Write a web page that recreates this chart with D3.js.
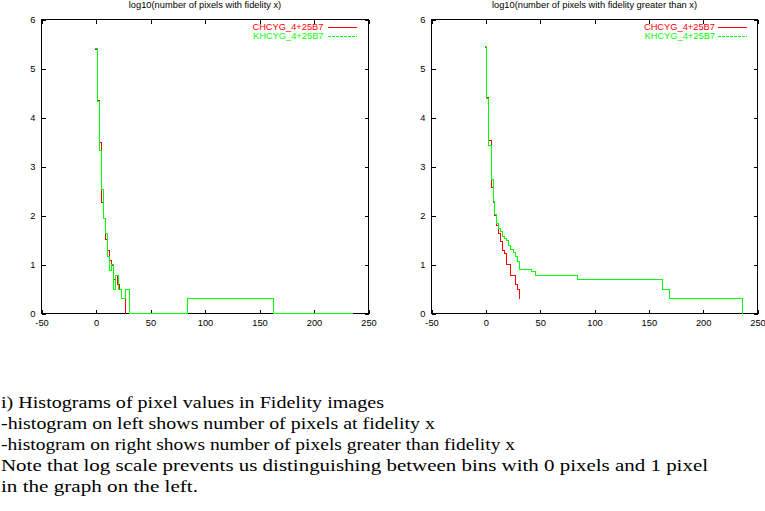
<!DOCTYPE html>
<html><head><meta charset="utf-8">
<script src="https://cdn.jsdelivr.net/npm/d3@7"></script>
<style>body{margin:0;background:#fff;} svg{display:block;}</style>
</head><body>
<script>
// ---- data ----
const xTicks = [-50, 0, 50, 100, 150, 200, 250];
const yTicks = [0, 1, 2, 3, 4, 5, 6];
const seriesNames = ["CHCYG_4+25B7", "KHCYG_4+25B7"];
const titles = ["log10(number of pixels with fidelity x)",
                "log10(number of pixels with fidelity greater than x)"];

// left: log10(number of pixels with fidelity x)  [x, log10 count]
const leftRed = [[-1.6,5.39],[1.5,4.34],[3.3,3.50],[5.1,2.26],[7.0,1.94],[8.8,1.51],
  [10.6,1.29],[12.5,1.09],[14.3,0.98],[16.1,0.70],[18.0,0.78],[19.8,0.60],
  [21.7,0.48],[23.5,0.30],[27.2,0]];
const leftGreen = [[-1.6,5.41],[1.5,4.33],[3.3,3.33],[5.1,2.53],[7.0,1.94],[8.8,1.63],
  [10.6,1.17],[12.5,0.88],[14.3,1.0],[16.1,0.48],[18.0,0.78],[21.1,0.48],
  [23.2,0.30],[27.2,0.48],[30.8,0],[84.0,0.30],[162.4,0],[235.0,0]];

// right: log10(number of pixels with fidelity greater than x)
const rightRed = [[-0.9,5.43],[0.9,4.40],[2.8,3.54],[5.0,2.57],[6.6,2.27],[8.3,1.99],
  [10.1,1.80],[12.0,1.63],[13.8,1.46],[15.7,1.28],[17.5,1.22],[19.4,1.0],
  [23.0,0.78],[27.6,0.60],[29.5,0.48],[31.3,0.30]];
const rightGreen = [[-0.9,5.45],[0.9,4.39],[2.8,3.43],[5.0,2.73],[6.6,2.29],[8.3,2.03],
  [10.1,1.84],[12.0,1.73],[13.8,1.68],[15.7,1.58],[17.5,1.54],[19.4,1.48],
  [21.2,1.38],[23.0,1.31],[25.8,1.24],[27.6,1.16],[29.5,1.07],[31.3,0.90],
  [42.4,0.85],[46.1,0.78],[84.8,0.70],[162.5,0.48],[168.7,0.30],[236.3,0]];

const notes = [
  "i) Histograms of pixel values in Fidelity images",
  "-histogram on left shows number of pixels at fidelity x",
  "-histogram on right shows number of pixels greater than fidelity x",
  "Note that log scale prevents us distinguishing between bins with 0 pixels and 1 pixel",
  "in the graph on the left."
];
const noteWidths = [383, 434, 514, 707, 197];

// ---- drawing ----
const W = 765, H = 511;
const svg = d3.select("body").append("svg").attr("width", W).attr("height", H)
  .style("font-family", "'Liberation Sans', Arial, sans-serif");

const panels = [
  {x0: 41.5, x1: 368.5, red: leftRed, green: leftGreen, title: titles[0], legEnd: 323.5, lineA: 328, lineB: 357},
  {x0: 431.5, x1: 757.5, red: rightRed, green: rightGreen, title: titles[1], legEnd: 715, lineA: 718, lineB: 747}
];
const yTop = 19.5, yBot = 313.5;
const fs = 9.3;
const fmt = d => String(d);

panels.forEach(p => {
  const x = d3.scaleLinear().domain([-50, 250]).range([p.x0, p.x1]);
  const y = d3.scaleLinear().domain([0, 6]).range([yBot, yTop]);
  const g = svg.append("g");

  const styleAxis = sel => {
    sel.select(".domain").remove();
    sel.selectAll("line").attr("stroke", "#000").attr("shape-rendering", "crispEdges");
    sel.selectAll("text").attr("font-size", fs).attr("font-family", "'Liberation Sans', Arial, sans-serif").attr("fill", "#000");
  };
  g.append("g").attr("transform", `translate(0,${yBot})`)
    .call(d3.axisBottom(x).tickValues(xTicks).tickFormat(fmt).tickSize(-4).tickPadding(6)).call(styleAxis);
  g.append("g").attr("transform", `translate(0,${yTop})`)
    .call(d3.axisTop(x).tickValues(xTicks).tickSize(-4).tickFormat("")).call(styleAxis);
  g.append("g").attr("transform", `translate(${p.x0},0)`)
    .call(d3.axisLeft(y).tickValues(yTicks).tickFormat(fmt).tickSize(-4).tickPadding(6)).call(styleAxis);
  g.append("g").attr("transform", `translate(${p.x1},0)`)
    .call(d3.axisRight(y).tickValues(yTicks).tickSize(-4).tickFormat("")).call(styleAxis);

  g.append("rect").attr("x", p.x0).attr("y", yTop)
    .attr("width", p.x1 - p.x0).attr("height", yBot - yTop)
    .attr("fill", "none").attr("stroke", "#000").attr("stroke-width", 1)
    .attr("shape-rendering", "crispEdges");

  g.append("text").attr("x", (p.x0 + p.x1) / 2).attr("y", 7.5)
    .attr("text-anchor", "middle").attr("font-size", fs).text(p.title);

  const line = d3.line()
    .x(d => Math.round(x(d[0]) - 0.5) + 0.5)
    .y(d => Math.round(y(d[1]) - 0.5) + 0.5)
    .curve(d3.curveStepAfter);
  g.append("path").datum(p.red).attr("d", line).attr("fill", "none")
    .attr("stroke", "#ff0000").attr("stroke-width", 1).attr("shape-rendering", "crispEdges");
  g.append("path").datum(p.green).attr("d", line).attr("fill", "none")
    .attr("stroke", "#00ff00").attr("stroke-width", 1).attr("shape-rendering", "crispEdges");

  // legend
  const legY = [26.5, 35.5];
  const cols = ["#ff0000", "#00ff00"];
  seriesNames.forEach((n, i) => {
    g.append("text").attr("x", p.legEnd).attr("y", legY[i]).attr("dy", "0.35em")
      .attr("text-anchor", "end").attr("font-size", fs).attr("fill", cols[i]).text(n);
    g.append("line").attr("x1", p.lineA).attr("x2", p.lineB)
      .attr("y1", Math.round(legY[i]) + 0.5).attr("y2", Math.round(legY[i]) + 0.5)
      .attr("stroke", cols[i]).attr("stroke-width", 1)
      .attr("stroke-dasharray", i ? "3,1" : null).attr("shape-rendering", "crispEdges");
  });
});

// caption
const cap = svg.append("g").attr("font-family", "'Liberation Serif', 'Times New Roman', serif")
  .attr("font-size", 16);
notes.forEach((t, i) => {
  cap.append("text").attr("x", 1).attr("y", 408 + i * 21)
    .attr("textLength", noteWidths[i]).attr("lengthAdjust", "spacingAndGlyphs")
    .attr("fill", "#000").text(t);
});
</script>
</body></html>
